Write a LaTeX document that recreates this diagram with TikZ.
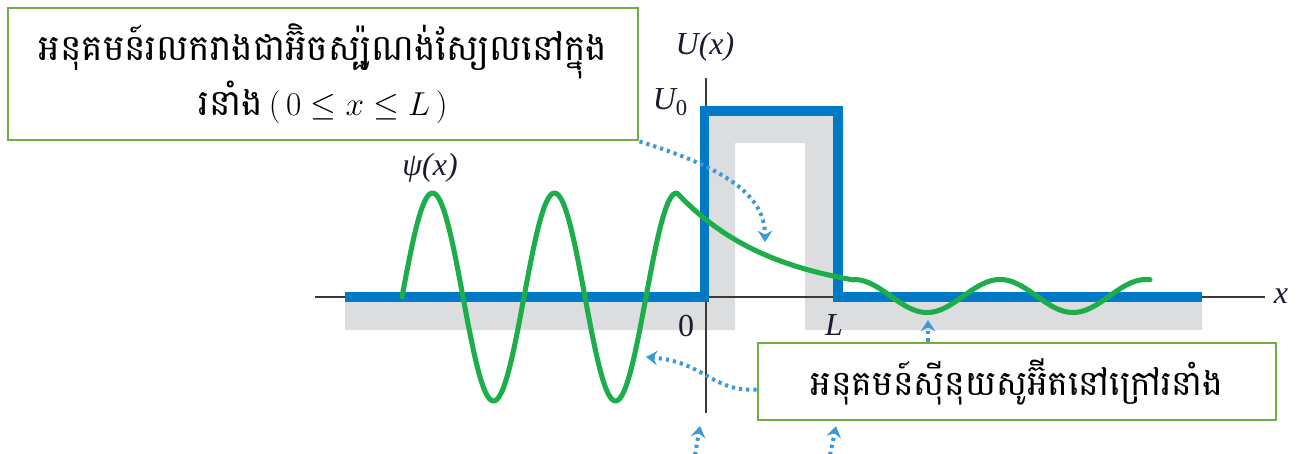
\documentclass[tikz,border=0pt]{standalone}
\usepackage{fontspec}
\usetikzlibrary{arrows.meta}
\newfontfamily\khmerfont[Script=Khmer]{Battambang}
\newfontfamily\lblfont{Liberation Serif}
\definecolor{potblue}{HTML}{0079C6}
\definecolor{arrblue}{HTML}{3A9AD9}
\definecolor{wavegreen}{HTML}{1DAD4B}
\definecolor{boxgreen}{HTML}{70AD47}
\definecolor{barrgray}{HTML}{DCDDDF}
\definecolor{axisgray}{HTML}{3A3A3A}
\definecolor{lblcol}{HTML}{1A1A30}
\tikzset{
  notebox/.style={draw=boxgreen, line width=2.2pt, fill=white, inner sep=0pt, align=center, font=\khmerfont\fontsize{27}{41}\selectfont},
  pointer/.style={arrblue, line width=3pt, dash pattern=on 2.4pt off 3pt, -{Stealth[length=8.5pt,width=11pt,inset=3pt]}},
  axisline/.style={axisgray, line width=1.1pt},
  lbl/.style={text=lblcol, font=\lblfont\itshape\fontsize{24}{28}\selectfont, inner sep=0pt}
}
\begin{document}
\begin{tikzpicture}[x=0.75pt,y=-0.75pt]
\useasboundingbox (0,0) rectangle (1305,453);
% gray barrier shading
\fill[barrgray] (345,297) -- (705,297) -- (705,111) -- (838,111) -- (838,297) -- (1202,297) -- (1202,330) -- (805,330) -- (805,143) -- (735,143) -- (735,330) -- (345,330) -- cycle;
% axes
\draw[axisline] (315,297) -- (1265,297);
\draw[axisline] (706,78) -- (706,413);
% potential
\draw[potblue, line width=6.8pt, line join=miter, line cap=butt] (345,297) -- (704.5,297) -- (704.5,111) -- (838,111) -- (838,297) -- (1202,297);
% wave function
\draw[wavegreen, line width=3.8pt, line join=round, line cap=round]
  plot[domain=402:677, samples=160] (\x,{297-104*sin(2.95082*(\x-402))})
  -- plot[domain=677:854, samples=60] (\x,{297-104*exp(-(\x-677)/97.6)})
  -- plot[domain=854:1150, samples=120] (\x,{296-16.5*cos(2.46575*(\x-854))});
% labels
\node[lbl] (ux) at (705,47) {U(x)};
\node[lbl] (u0) at (670,102) {U{\fontsize{17}{20}\selectfont\upshape\raisebox{-4pt}{0}}};
\node[lbl] (psi) at (430,168) {ψ(x)};
\node[lbl, font=\lblfont\fontsize{24}{28}\selectfont] (zero) at (686,326) {0};
\node[lbl] (ell) at (834,325) {L};
\node[lbl] (xl) at (1281,296) {x};
% note boxes
\node[notebox, minimum width=472.5pt, minimum height=99pt] (box1) at (323,74)
  {អនុគមន៍រលករាងជាអ៊ិចស្ប៉ូណង់ស្យែលនៅក្នុង\\រនាំង\,\rmfamily\fontsize{25}{28}\selectfont$(\,0 \leq x \leq L\,)$};
\node[notebox, font=\khmerfont\fontsize{26}{34}\selectfont, minimum width=388.5pt, minimum height=57.75pt] (box2) at (1017,381.5)
  {អនុគមន៍ស៊ីនុយសូអ៊ីតនៅក្រៅរនាំង};
% pointers
\coordinate (t1) at (765,242);
\coordinate (t2) at (646,357);
\coordinate (t3) at (928,320);
\coordinate (t4) at (700,426);
\coordinate (s4) at (695,455);
\coordinate (t5) at (836,426);
\coordinate (s5) at (830,455);
\draw[pointer] (box1.south east) .. controls (725,168) and (765,195) .. (t1);
\draw[pointer] ([yshift=-6pt]box2.west) .. controls (712,392) and (705,362) .. (t2);
\draw[pointer] (box2.north -| t3) -- (t3);
\draw[pointer] (s4) -- (t4);
\draw[pointer] (s5) -- (t5);
\end{tikzpicture}
\end{document}
